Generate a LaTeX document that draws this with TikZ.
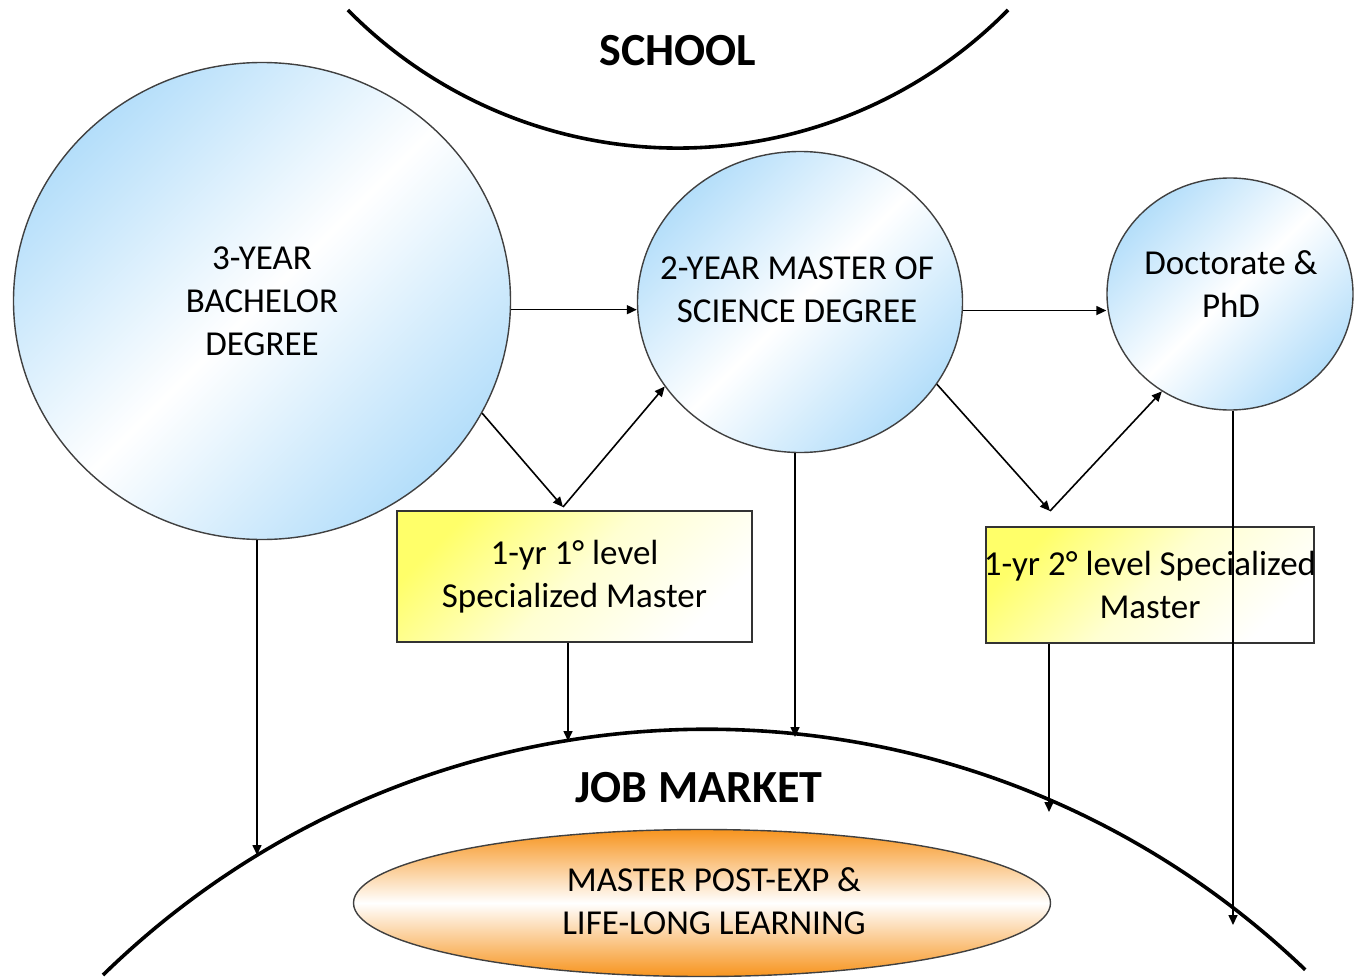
\documentclass[tikz,border=0pt]{standalone}
\usepackage{fontspec}
\setmainfont{Carlito}
\usetikzlibrary{shapes.geometric,arrows.meta}
\definecolor{bubblue}{RGB}{180,222,250}
\definecolor{specyellow}{RGB}{255,255,105}
\definecolor{llorange}{RGB}{247,148,30}

\begin{document}
\begin{tikzpicture}[x=0.5pt,y=-0.5pt,
  every node/.style={align=center,font=\fontsize{17.5}{21.5}\selectfont},
  bubble/.style={ellipse,draw=black!75,line width=0.7pt,inner sep=0pt,
    top color=bubblue,bottom color=bubblue,middle color=white,shading angle=45},
  spec/.style={rectangle,draw=black!80,line width=0.7pt,
    top color=specyellow,bottom color=white,middle color=specyellow!30,shading angle=45},
  title/.style={font=\bfseries\fontsize{23}{27}\selectfont},
  arr/.style={-{Triangle[length=5pt,width=4.5pt]},line width=0.8pt},
  rim/.style={line width=1.8pt}]
\useasboundingbox (0,0) rectangle (1354,979);

\draw[rim] (1008,10) arc[start angle=44.6,end angle=135.4,radius=463.6];
\node[title] (school) at (678,51) {SCHOOL};

\node[bubble,minimum width=248.5pt,minimum height=238.5pt] (bach) at (262,301) {3-YEAR\\BACHELOR\\DEGREE};
\node[bubble,minimum width=162.5pt,minimum height=150.5pt] (msc) at (800,302) {};
\node (msctext) at (797,290) {2-YEAR MASTER OF\\SCIENCE DEGREE};
\node[bubble,minimum width=123pt,minimum height=116pt] (phd) at (1230,294) {};
\node (phdtext) at (1231,284) {Doctorate \&\\PhD};

\node[spec,minimum width=177.5pt,minimum height=65.5pt] (spec1) at (574.5,576.5) {1-yr 1° level\\Specialized Master};
\node[spec,inner xsep=-3pt,minimum width=164pt,minimum height=58pt] (spec2) at (1150,585) {1-yr 2° level Specialized\\Master};

\draw[rim] (103,975) arc[start angle=-134.3,end angle=-46.2,radius=864.6];
\node[title] (job) at (699,788) {JOB MARKET};

\node[ellipse,draw=black!75,line width=0.7pt,inner sep=0pt,minimum width=348.5pt,minimum height=73.5pt,
  top color=llorange,bottom color=llorange,middle color=white] (llp) at (702,903) {};
\node (llptext) at (714,901) {MASTER POST-EXP \&\\LIFE-LONG LEARNING};

\coordinate (v1) at (563,507);
\coordinate (v2) at (1050,511);
\coordinate (j1) at (257,855);
\coordinate (j2) at (568,741);
\coordinate (j3) at (795,737);
\coordinate (j4) at (1049,812);
\coordinate (j5) at (1233,925);

\draw[arr] (bach.-2) -- (bach.-2 -| msc.west);
\draw[arr] (msc.-3) -- (msc.-3 -| phd.west);
\draw[arr] (bach.-27) -- (v1);
\draw[arr] (v1) -- (msc.212);
\draw[arr] (msc.-31) -- (v2);
\draw[arr] (v2) -- (phd.235);
\draw[arr] (j1 |- bach.south) -- (j1);
\draw[arr] (j2 |- spec1.south) -- (j2);
\draw[arr] (j3 |- msc.south) -- (j3);
\draw[arr] (j4 |- spec2.south) -- (j4);
\draw[arr] (j5 |- phd.south) -- (j5);
\end{tikzpicture}
\end{document}
